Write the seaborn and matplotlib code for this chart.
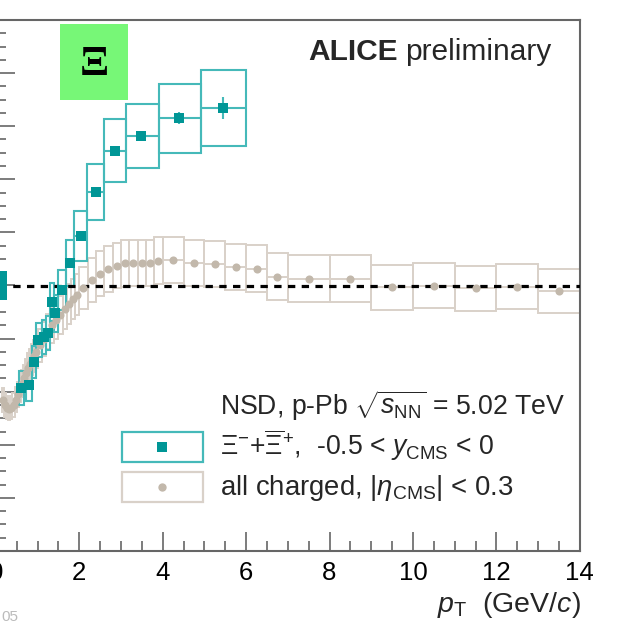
import matplotlib
matplotlib.use("Agg")
import matplotlib.pyplot as plt
import seaborn as sns
import pandas as pd
from matplotlib.patches import Rectangle
from matplotlib.lines import Line2D
from matplotlib.ticker import MultipleLocator, FixedLocator

# ---------------- data ----------------
xi_pt = [0.61, 0.80, 0.92, 1.02, 1.16, 1.26, 1.35, 1.43, 1.59, 1.78, 2.04, 2.40, 2.85, 3.49, 4.40, 5.44]
xi_lo = [0.55, 0.72, 0.86, 0.97, 1.10, 1.21, 1.31, 1.39, 1.48, 1.69, 1.88, 2.18, 2.60, 3.11, 3.91, 4.91]
xi_hi = [0.68, 0.86, 0.97, 1.10, 1.21, 1.31, 1.39, 1.48, 1.69, 1.88, 2.18, 2.60, 3.11, 3.91, 4.91, 6.00]
xi_r = [0.614, 0.625, 0.712, 0.795, 0.806, 0.821, 0.938, 0.896, 0.983, 1.085, 1.186, 1.351, 1.508, 1.563, 1.630, 1.669]
xi_syst = [0.065, 0.060, 0.060, 0.065, 0.065, 0.065, 0.070, 0.070, 0.075, 0.085, 0.093, 0.105, 0.120, 0.121, 0.130, 0.142]
xi_stat = [0.015, 0.012, 0.010, 0.010, 0.010, 0.010, 0.010, 0.010, 0.010, 0.010, 0.010, 0.012, 0.012, 0.015, 0.022, 0.040]

ch_edges = [0.15, 0.2, 0.25, 0.3, 0.35, 0.4, 0.45, 0.5, 0.55, 0.6, 0.65, 0.7, 0.75, 0.8, 0.85, 0.9, 0.95,
            1.0, 1.1, 1.2, 1.3, 1.4, 1.5, 1.6, 1.7, 1.8, 1.9, 2.0, 2.2, 2.4, 2.6, 2.8, 3.0, 3.2, 3.4,
            3.6, 3.8, 4.0, 4.5, 5.0, 5.5, 6.0, 6.5, 7.0, 8.0, 9.0, 10.0, 11.0, 12.0, 13.0, 14.0]
ch_pt = [0.175, 0.225, 0.275, 0.325, 0.375, 0.425, 0.475, 0.525, 0.575, 0.625, 0.675, 0.725, 0.775,
         0.825, 0.875, 0.925, 0.975, 1.05, 1.15, 1.25, 1.35, 1.45, 1.55, 1.65, 1.75, 1.85, 1.95,
         2.1, 2.3, 2.5, 2.7, 2.9, 3.1, 3.3, 3.5, 3.7, 3.9, 4.25, 4.75, 5.25, 5.75, 6.25, 6.75,
         7.5, 8.5, 9.5, 10.5, 11.5, 12.5, 13.5]
ch_r = [0.570, 0.550, 0.540, 0.535, 0.540, 0.550, 0.570, 0.590, 0.610, 0.630, 0.650, 0.670, 0.690,
        0.705, 0.720, 0.735, 0.750, 0.775, 0.800, 0.825, 0.850, 0.870, 0.890, 0.910, 0.930, 0.950, 0.965,
        0.990, 1.020, 1.045, 1.062, 1.075, 1.083, 1.085, 1.086, 1.084, 1.094, 1.096, 1.084, 1.082, 1.070,
        1.064, 1.033, 1.026, 1.026, 0.993, 0.999, 0.989, 0.995, 0.979]
ch_syst = [0.045, 0.044, 0.043, 0.043, 0.043, 0.044, 0.046, 0.047, 0.049, 0.050, 0.052, 0.054, 0.055,
           0.056, 0.058, 0.059, 0.060, 0.062, 0.064, 0.066, 0.068, 0.070, 0.071, 0.073, 0.074, 0.076, 0.077,
           0.079, 0.082, 0.084, 0.085, 0.086, 0.087, 0.087, 0.087, 0.087, 0.088, 0.088, 0.087, 0.087, 0.086,
           0.087, 0.088, 0.088, 0.088, 0.085, 0.085, 0.084, 0.085, 0.082]

norm_lo, norm_hi, norm_x0, norm_x1 = 0.945, 1.055, 0.0, 0.27

x_ticks = [0, 2, 4, 6, 8, 10, 12, 14]
x_ticklabels = ["0", "2", "4", "6", "8", "10", "12", "14"]

# ---------------- style ----------------
sns.set_theme(style="ticks")
plt.rcParams['font.family'] = ['Liberation Sans', 'DejaVu Sans']
plt.rcParams['mathtext.fontset'] = 'custom'
plt.rcParams['mathtext.rm'] = 'Liberation Sans'
plt.rcParams['mathtext.it'] = 'Liberation Sans:italic'
plt.rcParams['mathtext.bf'] = 'Liberation Sans:bold'

TEAL = "#009696"
TEAL_BOX = "#45b9b9"
GREY = "#c2b8ab"
GREY_BOX = "#d9d1c9"
FRAME = "#666666"

W, H = 620, 623
fig = plt.figure(figsize=(W / 100, H / 100), dpi=100)
ax = fig.add_axes([-4.2 / W, 1 - 551 / H, 584 / W, 531 / H])
ax.set_xlim(0, 14)
ax.set_ylim(0, 2)


def fx(px):
    return px / W


def fy(py):
    return 1 - py / H


# charged boxes
for i in range(len(ch_pt)):
    lo, hi = ch_edges[i], ch_edges[i + 1]
    ax.add_patch(Rectangle((lo, ch_r[i] - ch_syst[i]), hi - lo, 2 * ch_syst[i], fill=False,
                           ec=GREY_BOX, lw=1.4, zorder=2))
ch_xerr = [[ch_pt[i] - ch_edges[i] for i in range(len(ch_pt))],
           [ch_edges[i + 1] - ch_pt[i] for i in range(len(ch_pt))]]
ax.errorbar(ch_pt, ch_r, xerr=ch_xerr, fmt='none', ecolor=GREY_BOX, elinewidth=1.4, capsize=0, zorder=2)

# Xi boxes
for i in range(len(xi_pt)):
    ax.add_patch(Rectangle((xi_lo[i], xi_r[i] - xi_syst[i]), xi_hi[i] - xi_lo[i], 2 * xi_syst[i],
                           fill=False, ec=TEAL_BOX, lw=1.5, zorder=3))
xi_xerr = [[xi_pt[i] - xi_lo[i] for i in range(len(xi_pt))],
           [xi_hi[i] - xi_pt[i] for i in range(len(xi_pt))]]
ax.errorbar(xi_pt, xi_r, xerr=xi_xerr, yerr=xi_stat, fmt='none', ecolor=TEAL_BOX, elinewidth=1.5,
            capsize=0, zorder=3)

# normalisation box
ax.add_patch(Rectangle((norm_x0, norm_lo), norm_x1 - norm_x0, norm_hi - norm_lo, color=TEAL, lw=0, zorder=5))

# unity line
ln = ax.axhline(1.0, color="black", lw=2.3, zorder=4)
ln.set_dashes((2.3, 2.0))

# markers
df_ch = pd.DataFrame({"pt": ch_pt, "r": ch_r})
df_xi = pd.DataFrame({"pt": xi_pt, "r": xi_r})
sns.scatterplot(data=df_ch, x="pt", y="r", marker="o", s=34, color=GREY, linewidth=0, ax=ax, zorder=6)
sns.scatterplot(data=df_xi, x="pt", y="r", marker="s", s=56, color=TEAL, linewidth=0, ax=ax, zorder=7)

# axes styling
ax.set_xlabel("")
ax.set_ylabel("")
ax.xaxis.set_major_locator(FixedLocator(x_ticks))
ax.set_xticklabels(x_ticklabels)
ax.xaxis.set_minor_locator(MultipleLocator(0.5))
ax.yaxis.set_major_locator(MultipleLocator(0.2))
ax.yaxis.set_minor_locator(MultipleLocator(0.05))
ax.tick_params(which="both", direction="in", top=False, right=False, color=FRAME, width=1.2,
               labelleft=False)
ax.tick_params(which="major", length=14)
ax.tick_params(which="minor", length=7)
ax.tick_params(axis="x", labelsize=18.5, pad=7, labelcolor="black")
for s in ax.spines.values():
    s.set_color(FRAME)
    s.set_linewidth(1.5)
    s.set_visible(True)

# x title
fig.text(fx(581), fy(612), r"$p_{\mathrm{T}}$  (GeV/$c$)", ha="right", va="baseline", fontsize=20.5)

# ALICE preliminary
fig.text(fx(308), fy(60), "ALICE", fontweight="bold", fontsize=21.5, va="baseline")
fig.text(fx(405), fy(60), "preliminary", fontsize=21.5, va="baseline")

# green Xi label
fig.add_artist(Rectangle((fx(60), fy(100)), 68 / W, 76 / H, transform=fig.transFigure,
                         color="#77f777", lw=0))
fig.text(fx(94.5), fy(65), "Ξ", ha="center", va="center", fontsize=31, fontweight="bold",
         family=["Liberation Serif", "DejaVu Serif"], color="black")

# legend
fig.text(fx(220), fy(415), r"NSD, p-Pb $\sqrt{s_{\mathrm{NN}}}$ = 5.02 TeV", fontsize=19.2, va="baseline")
fig.add_artist(Rectangle((fx(122), fy(462)), 81 / W, 30 / H, transform=fig.transFigure,
                         fill=False, ec=TEAL_BOX, lw=1.6))
fig.add_artist(Line2D([fx(162)], [fy(447)], marker="s", ms=7.5, color=TEAL, mew=0,
                      transform=fig.transFigure))
fig.text(fx(220), fy(455), r"$\Xi^{-}$+$\overline{\Xi}^{+}$,  -0.5 < $y_{\mathrm{CMS}}$ < 0",
         fontsize=19.2, va="baseline")
fig.add_artist(Rectangle((fx(122), fy(502)), 81 / W, 30 / H, transform=fig.transFigure,
                         fill=False, ec=GREY_BOX, lw=1.6))
fig.add_artist(Line2D([fx(162)], [fy(487)], marker="o", ms=6, color=GREY, mew=0,
                      transform=fig.transFigure))
fig.text(fx(220), fy(495), r"all charged, |$\eta_{\mathrm{CMS}}$| < 0.3", fontsize=19.8, va="baseline")

# faint id fragment bottom-left
fig.text(fx(1.5), fy(621), "05", fontsize=11, color="#bbbbbb", va="baseline")

fig.savefig("out.png", dpi=100)
